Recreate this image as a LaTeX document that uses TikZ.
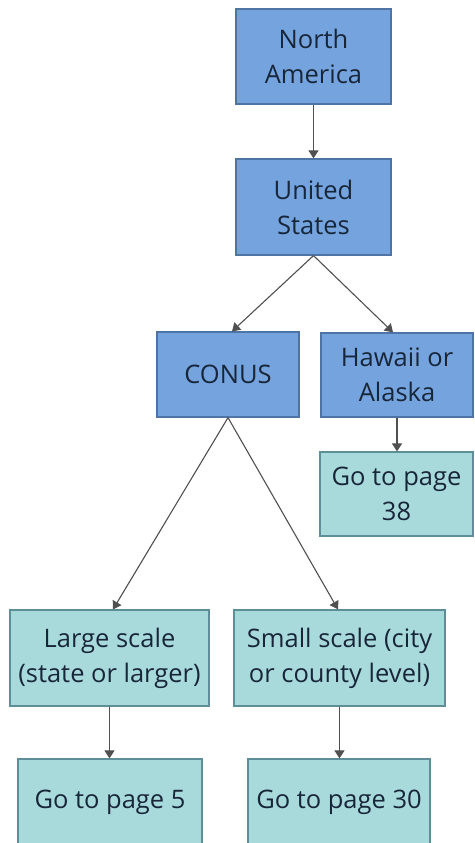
\documentclass[tikz,border=0pt]{standalone}
\usepackage{fontspec}
\setmainfont{Open Sans}
\usetikzlibrary{arrows.meta,calc}
\definecolor{bluefill}{HTML}{74A3DE}
\definecolor{blueline}{HTML}{4E74A6}
\definecolor{tealfill}{HTML}{A9DADB}
\definecolor{tealline}{HTML}{5E8E98}
\definecolor{txt}{HTML}{18263A}
\definecolor{arr}{HTML}{505050}
\begin{document}
\begin{tikzpicture}[x=1pt,y=-1pt,
  box/.style={draw, line width=1.2pt, align=center, inner sep=0pt, text=txt,
    font=\fontsize{25.5}{35}\selectfont},
  bluebox/.style={box, fill=bluefill, draw=blueline},
  tealbox/.style={box, fill=tealfill, draw=tealline},
  conn/.style={draw=arr, line width=1.1pt, -{Triangle[length=8pt,width=10pt]}}]
\useasboundingbox (0,0) rectangle (474,843);
\node[bluebox, minimum width=155pt, minimum height=95pt] (na) at (313.5,56.5) {North\\America};
\node[bluebox, minimum width=155pt, minimum height=96pt] (us) at (313.5,207) {United\\States};
\node[bluebox, minimum width=142pt, minimum height=85pt] (conus) at (228,374.5) {CONUS};
\node[bluebox, minimum width=152pt, minimum height=84pt] (hawaii) at (397,375) {Hawaii or\\Alaska};
\node[tealbox, minimum width=153pt, minimum height=84pt] (p38) at (396.5,494) {Go to page\\38};
\node[tealbox, minimum width=199pt, minimum height=96pt] (large) at (109.5,658) {Large scale\\(state or larger)};
\node[tealbox, minimum width=211pt, minimum height=96pt] (small) at (339.5,658) {Small scale (city\\or county level)};
\node[tealbox, minimum width=184pt, minimum height=86pt] (p5) at (110,802) {Go to page 5};
\node[tealbox, minimum width=182pt, minimum height=86pt] (p30) at (339,802) {Go to page 30};
\draw[conn] (na.south) -- (us.north);
\draw[conn] (us.south) -- ($(conus.north)+(4,0)$);
\draw[conn] (us.south) -- ($(hawaii.north)+(-4,0)$);
\draw[conn] (hawaii.south) -- (p38.north -| hawaii.south);
\draw[conn] (conus.south) -- ($(large.north)+(3.5,0)$);
\draw[conn] (conus.south) -- ($(small.north)+(-1.5,0)$);
\draw[conn] (large.south) -- (p5.north -| large.south);
\draw[conn] (small.south) -- (p30.north -| small.south);
\end{tikzpicture}
\end{document}
